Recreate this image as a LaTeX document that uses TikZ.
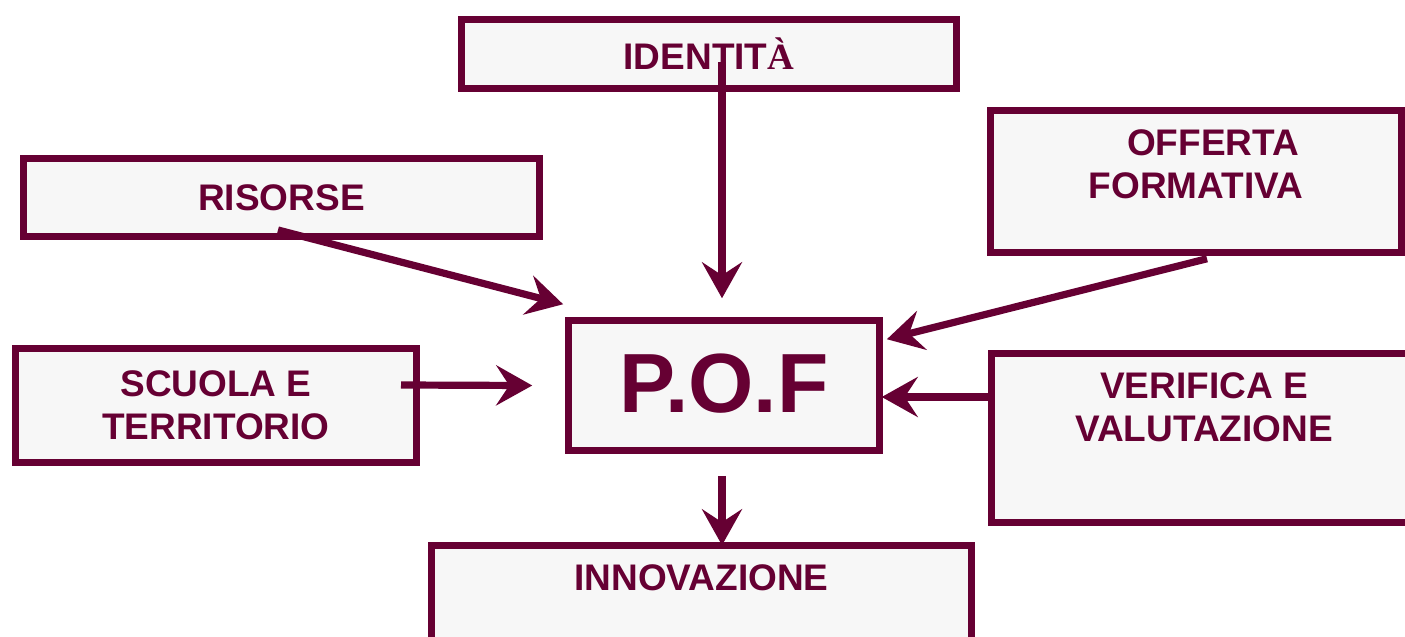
\documentclass[tikz,border=0pt]{standalone}
\usepackage{fontspec}
\setmainfont{Liberation Sans}
\newfontfamily\accentfont{Liberation Serif}
\usetikzlibrary{calc,positioning}
\usetikzlibrary{arrows.meta}
\definecolor{pofred}{HTML}{660033}
\definecolor{pofgrey}{HTML}{F7F7F7}
\tikzset{
  box/.style={rectangle, draw=pofred, fill=pofgrey, line width=3.75pt, inner sep=0pt,
    text=pofred, align=center, font=\fontsize{18.5}{21.5}\selectfont\bfseries},
  toptext/.style={anchor=north, inner sep=0pt, yshift=-11.25pt, text=pofred,
    align=center, font=\fontsize{18.5}{21.5}\selectfont\bfseries},
  arr/.style={draw=pofred, line width=3.6pt, shorten >=-2pt,
    -{Stealth[length=18pt,width=20pt,inset=6.5pt]}}
}

\begin{document}
\begin{tikzpicture}[x=0.5pt, y=-0.5pt]
    \useasboundingbox (0,0) rectangle (1405,637);
    % draw boxes
    \node [box, minimum width=247.5pt, minimum height=34.5pt] (ident) at (709,54)
      {IDENTIT{\accentfont\bfseries À}};
    \node [box, minimum width=258pt, minimum height=39pt] (risorse) at (281.5,197.5) {RISORSE};
    \node [box, minimum width=205.5pt, minimum height=71pt,
      label={[toptext]north:\hspace*{17pt}OFFERTA\\FORMATIVA}] (offerta) at (1196,181.5) {};
    \node [box, minimum width=200.5pt, minimum height=57pt] (scuola) at (216,405.5)
      {SCUOLA E\\TERRITORIO};
    \node [box, minimum width=155.5pt, minimum height=65pt,
      font=\fontsize{42}{42}\selectfont\bfseries] (pof) at (724,385.5)
      {\raisebox{2.5pt}{P.O.F}};
    \node [box, minimum width=212.5pt, minimum height=84.5pt,
      label={[toptext]north:VERIFICA E\\VALUTAZIONE}] (verifica) at (1204,438) {};
    \node [box, minimum width=270pt, minimum height=60.5pt,
      label={[toptext]north:INNOVAZIONE}] (innov) at (701.5,606) {};
    % draw arrows
    \draw [arr] ([shift={(13,8)}]ident.center) -- ([shift={(-2,-22.5)}]pof.north);
    \draw [arr] ([shift={(-3.5,32.5)}]risorse.center) -- ([shift={(-5.5,-13.5)}]pof.north west);
    \draw [arr] ([shift={(11,2.5)}]offerta.south) -- ([shift={(7.5,21.5)}]pof.north east);
    \draw [arr] ([shift={(185,-20.5)}]scuola.center) -- ([shift={(-36.5,0)}]pof.west);
    \draw [arr] ([shift={(5.5,-41)}]verifica.west) -- ([shift={(2.5,11.5)}]pof.east);
    \draw [arr] ([shift={(-2,21.5)}]pof.south) -- ([shift={(20.5,-0.5)}]innov.north);
\end{tikzpicture}
\end{document}
